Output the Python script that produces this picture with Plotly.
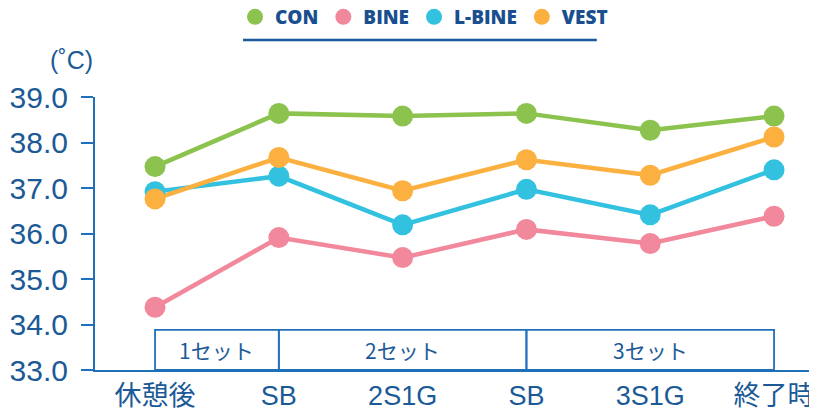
import plotly.graph_objects as go

categories = ["休憩後", "SB", "2S1G", "SB", "3S1G", "終了時"]
x_pos = [0, 1, 2, 3, 4, 5]

con = [37.47, 38.64, 38.58, 38.64, 38.27, 38.58]
bine = [34.38, 35.91, 35.47, 36.09, 35.78, 36.38]
lbine = [36.92, 37.26, 36.19, 36.97, 36.41, 37.40]
vest = [36.76, 37.67, 36.94, 37.62, 37.28, 38.12]

series_names = ["CON", "BINE", "L-BINE", "VEST"]
series_values = [con, bine, lbine, vest]
series_colors = ["#8BC34E", "#F2889C", "#33C1E0", "#FBB040"]

set_labels = ["1セット", "2セット", "3セット"]
set_start = [0, 1, 3]
set_end = [1, 3, 5]

y_ticks = [33.0, 34.0, 35.0, 36.0, 37.0, 38.0, 39.0]

TEXT = "#1B5A97"
AXIS = "#1F70BB"
FONT = "Liberation Sans, Arial, Noto Sans CJK JP"

fig = go.Figure()

for name, vals, col in zip(series_names, series_values, series_colors):
    fig.add_trace(go.Scatter(
        x=x_pos, y=vals, mode="lines", name=name, legendgroup=name,
        showlegend=False, line=dict(color=col, width=4.5), hoverinfo="skip"))
for name, vals, col in zip(series_names, series_values, series_colors):
    fig.add_trace(go.Scatter(
        x=x_pos, y=vals, mode="markers", name=name, legendgroup=name,
        marker=dict(color=col, size=21, line=dict(width=0))))

shapes = []
annotations = []
box_top = 33.88
for lab, s, e in zip(set_labels, set_start, set_end):
    shapes.append(dict(type="rect", xref="x", yref="y", x0=s, x1=e, y0=33.0, y1=box_top,
                       line=dict(color=AXIS, width=1.8), fillcolor="rgba(0,0,0,0)", layer="below"))
    annotations.append(dict(xref="x", yref="y", x=(s + e) / 2, y=(33.0 + box_top) / 2,
                            text=lab, showarrow=False,
                            font=dict(family="Noto Sans CJK JP, Liberation Sans", size=21, color=TEXT)))

# legend underline
shapes.append(dict(type="line", xref="paper", yref="paper",
                   x0=0.205, x1=0.695, y0=1.2088, y1=1.2088,
                   line=dict(color="#1A5A9C", width=2.5)))

annotations.append(dict(xref="paper", yref="paper", x=0, y=1, xanchor="right", yanchor="bottom",
                        yshift=21, text="(˚C)", showarrow=False,
                        font=dict(family=FONT, size=25, color=TEXT)))

# page body has an 8px margin; the figure is sized/offset so the plot lands where the reference has it
fig.update_layout(
    width=809, height=409,
    margin=dict(l=87, r=0, t=89, b=47, autoexpand=False),
    paper_bgcolor="white", plot_bgcolor="white",
    showlegend=True,
    legend=dict(orientation="h", xref="paper", yref="paper",
                x=0.4557, xanchor="center", y=1.293, yanchor="middle",
                font=dict(family="Open Sans, Liberation Sans", size=19, color="#1A4F8F", weight=800),
                itemwidth=30, tracegroupgap=0, bgcolor="rgba(0,0,0,0)"),
    shapes=shapes,
    annotations=annotations,
    xaxis=dict(range=[-0.485, 5.347], tickvals=x_pos, ticktext=categories, automargin=False,
               showgrid=False, zeroline=False, showline=True, linecolor=AXIS, linewidth=2,
               ticks="", ticklabelstandoff=1,
               tickfont=dict(family=FONT, size=27, color=TEXT), fixedrange=True),
    yaxis=dict(range=[33.0, 39.0], tickvals=y_ticks, ticktext=[f"{v:.1f}" for v in y_ticks],
               automargin=False,
               showgrid=False, zeroline=False, showline=True, linecolor=AXIS, linewidth=2,
               ticks="outside", ticklen=12, tickwidth=2, tickcolor=AXIS, ticklabelstandoff=7,
               tickfont=dict(family=FONT, size=30, color=TEXT), fixedrange=True),
)

fig.write_html("out.html")
